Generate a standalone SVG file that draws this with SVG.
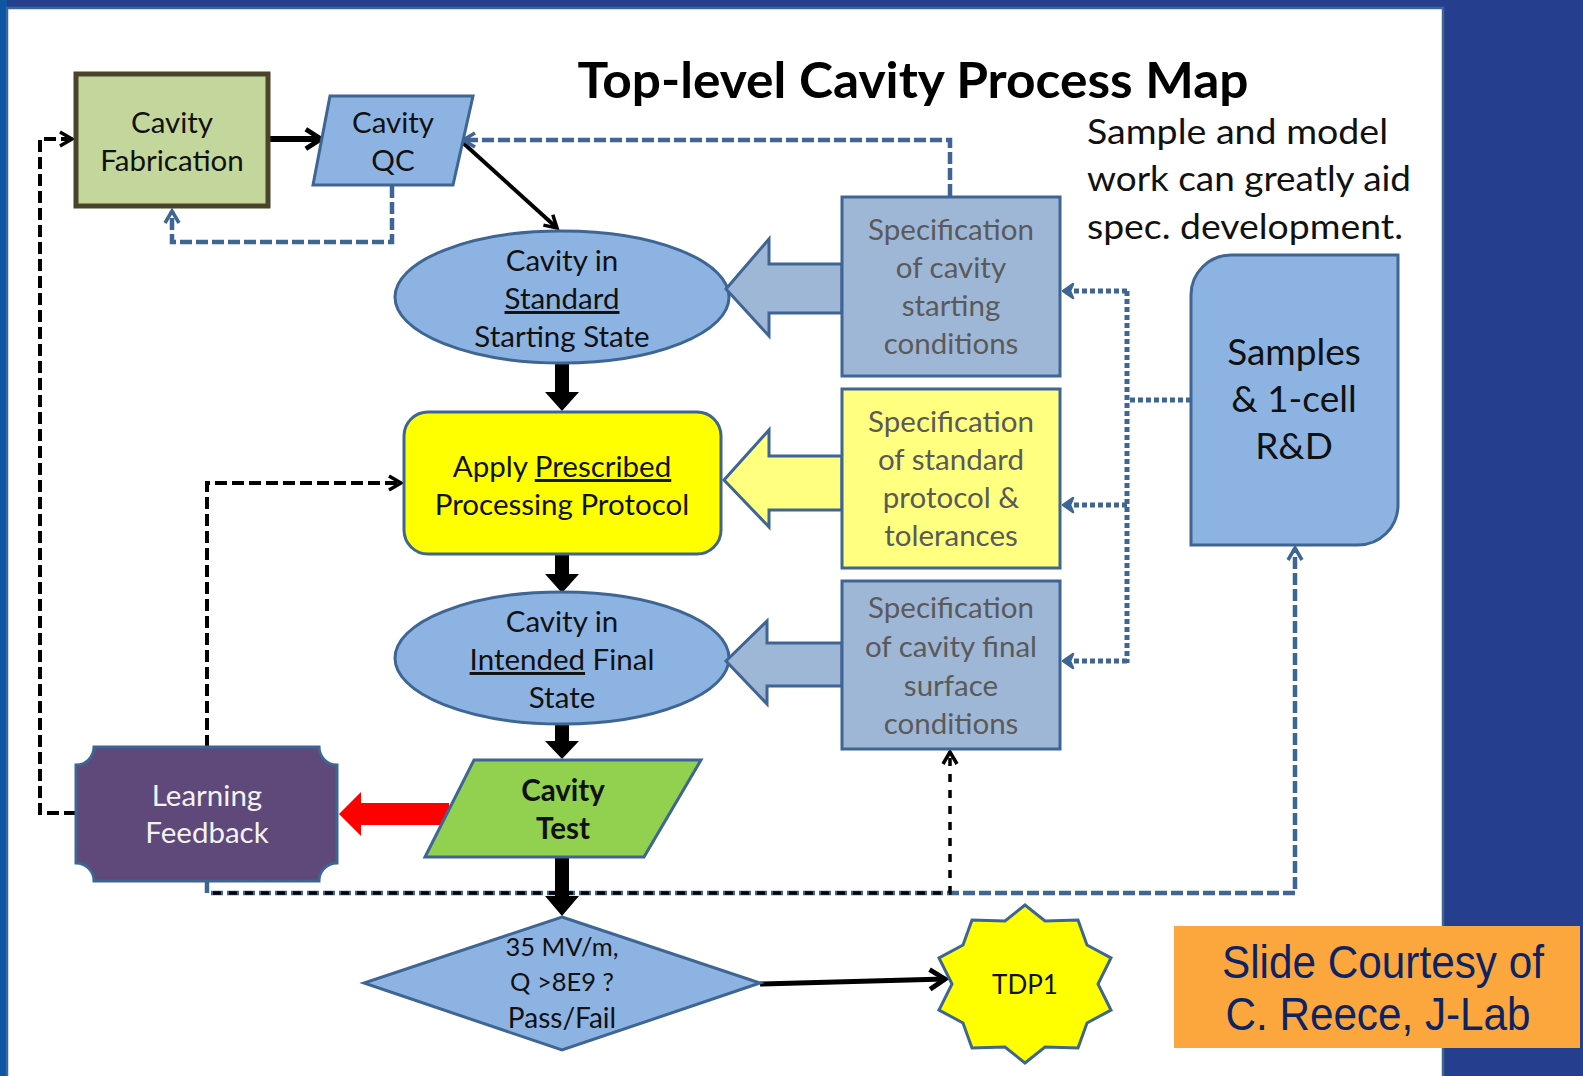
<svg xmlns="http://www.w3.org/2000/svg" width="1583" height="1076" viewBox="0 0 1583 1076">
  <style>
    .lbl { font-family: Lato, "Noto Sans", sans-serif; font-size: 29.5px; fill: #111; text-anchor: middle; }
    .spec { font-family: Lato, "Noto Sans", sans-serif; font-size: 29.5px; fill: #5a5a5a; text-anchor: middle; }
    .blue { fill: #8DB3E2; stroke: #3E6593; stroke-width: 3; }
    .edge { stroke: #3E6593; stroke-width: 3; }
    .dashB { fill: none; stroke: #3E6593; stroke-width: 4.5; stroke-dasharray: 12 4; }
    .dashK { fill: none; stroke: #000; stroke-width: 4; stroke-dasharray: 12 5; }
    .dot { fill: none; stroke: #3E6593; stroke-width: 5; stroke-dasharray: 5 3; }
    .solid { fill: none; stroke: #000; }
    .u { text-decoration: underline; }
  </style>
  <defs>
    <marker id="chevK" viewBox="0 0 20 20" refX="17" refY="10" markerWidth="20" markerHeight="20" markerUnits="userSpaceOnUse" orient="auto">
      <path d="M5,3 L17,10 L5,17" fill="none" stroke="#000" stroke-width="3.5"/>
    </marker>
    <marker id="chevKbig" viewBox="0 0 24 24" refX="20" refY="12" markerWidth="26" markerHeight="26" markerUnits="userSpaceOnUse" orient="auto">
      <path d="M6,3 L20,12 L6,21" fill="none" stroke="#000" stroke-width="4.5"/>
    </marker>
    <marker id="chevB" viewBox="0 0 20 20" refX="17" refY="10" markerWidth="20" markerHeight="20" markerUnits="userSpaceOnUse" orient="auto">
      <path d="M5,3 L17,10 L5,17" fill="none" stroke="#3E6593" stroke-width="3.5"/>
    </marker>
    <marker id="headB" viewBox="0 0 20 20" refX="17" refY="10" markerWidth="20" markerHeight="20" markerUnits="userSpaceOnUse" orient="auto">
      <path d="M7,3 L17,10 L7,17 L10,10 Z" fill="#3E6593" stroke="#3E6593" stroke-width="2.5" stroke-linejoin="round"/>
    </marker>
  </defs>

  <!-- slide background and white panel -->
  <rect x="0" y="0" width="1583" height="1076" fill="#253F8E"/>
  <rect x="0" y="0" width="7" height="1076" fill="#0E56A4"/>
  <rect x="7" y="8" width="1436" height="1070" fill="#ffffff" stroke="#3D6597" stroke-width="2.5"/>

  <!-- headings -->
  <text x="913" y="98" font-family="Lato, 'Noto Sans', sans-serif" font-weight="bold" font-size="49" text-anchor="middle" fill="#000" textLength="671" lengthAdjust="spacingAndGlyphs">Top-level Cavity Process Map</text>
  <g font-family="Lato, 'Noto Sans', sans-serif" font-size="35" fill="#111">
    <text x="1087" y="144" textLength="301" lengthAdjust="spacingAndGlyphs">Sample and model</text>
    <text x="1087" y="191" textLength="324" lengthAdjust="spacingAndGlyphs">work can greatly aid</text>
    <text x="1087" y="239" textLength="316" lengthAdjust="spacingAndGlyphs">spec. development.</text>
  </g>

  <!-- connectors -->
  <g id="connectors">
    <path class="solid" d="M269 139 H321" stroke-width="6" marker-end="url(#chevKbig)"/>
    <path class="solid" d="M461 141 L557 228" stroke-width="4" marker-end="url(#chevK)"/>
    <path class="dashB" d="M950 196 V140 H463" marker-end="url(#chevB)"/>
    <path class="dashB" d="M392 186 V242 H172 V211" marker-end="url(#chevB)"/>
    <path class="dashK" d="M76 813 H40 V139 H72" marker-end="url(#chevK)"/>
    <path class="dashK" d="M207 747 V483 H401" marker-end="url(#chevK)"/>
    <path class="dashB" d="M207 881 V893 H1295 V548" marker-end="url(#chevB)"/>
    <path d="M207 893 H950 V752" fill="none" stroke="#000" stroke-width="3.5" stroke-dasharray="8 8" stroke-dashoffset="10" marker-end="url(#chevK)"/>
    <path class="dot" d="M1191 400 H1127"/>
    <path class="dot" d="M1127 291 V663"/>
    <path class="dot" d="M1127 291 H1063" marker-end="url(#headB)"/>
    <path class="dot" d="M1127 505 H1063" marker-end="url(#headB)"/>
    <path class="dot" d="M1127 661 H1063" marker-end="url(#headB)"/>
    <!-- thick downward flow arrows -->
    <polygon points="555,363 569,363 569,392 579,392 562,411 545,392 555,392" fill="#000"/>
    <polygon points="555,553 569,553 569,574 579,574 562,593 545,574 555,574" fill="#000"/>
    <polygon points="555,723 569,723 569,741 579,741 562,759 545,741 555,741" fill="#000"/>
    <polygon points="555,856 569,856 569,896 579,896 562,916 545,896 555,896" fill="#000"/>
    <!-- diamond to TDP1 -->
    <path class="solid" d="M760 984 L945 979" stroke-width="5" marker-end="url(#chevKbig)"/>
    <!-- feedback arrow -->
    <polygon points="449,803 361,803 361,792 339,814 361,836 361,825 449,825" fill="#FF0000"/>
  </g>

  <g id="cavity-fabrication">
    <rect x="76" y="74" width="192" height="132" fill="#C3D69B" stroke="#4A452A" stroke-width="5"/>
    <text class="lbl" x="172" y="133">Cavity</text>
    <text class="lbl" x="172" y="171">Fabrication</text>
  </g>

  <g id="cavity-qc">
    <polygon class="blue" points="330,96 473,96 453,185 313,185"/>
    <text class="lbl" x="393" y="133">Cavity</text>
    <text class="lbl" x="393" y="171">QC</text>
  </g>

  <g id="standard-state">
    <ellipse class="blue" cx="562" cy="297" rx="167" ry="66"/>
    <text class="lbl" x="562" y="271">Cavity in</text>
    <text class="lbl" x="562" y="309"><tspan class="u">Standard</tspan></text>
    <text class="lbl" x="562" y="347">Starting State</text>
  </g>

  <g id="spec-starting">
    <polygon class="edge" fill="#9FB7D6" points="842,264 769,264 769,239 726,289 769,336 769,313 842,313"/>
    <rect class="edge" x="842" y="197" width="218" height="179" fill="#9FB7D6"/>
    <text class="spec" x="951" y="240">Specification</text>
    <text class="spec" x="951" y="278">of cavity</text>
    <text class="spec" x="951" y="316">starting</text>
    <text class="spec" x="951" y="354">conditions</text>
  </g>

  <g id="apply-protocol">
    <rect class="edge" x="404" y="412" width="317" height="142" rx="24" fill="#FFFF00"/>
    <text class="lbl" x="562" y="477">Apply <tspan class="u">Prescribed</tspan></text>
    <text class="lbl" x="562" y="515">Processing Protocol</text>
  </g>

  <g id="spec-protocol">
    <polygon class="edge" fill="#FFFF80" points="842,456 769,456 769,430 724,480 769,527 769,510 842,510"/>
    <rect class="edge" x="842" y="389" width="218" height="179" fill="#FFFF80"/>
    <text class="spec" x="951" y="432">Specification</text>
    <text class="spec" x="951" y="470">of standard</text>
    <text class="spec" x="951" y="508">protocol &amp;</text>
    <text class="spec" x="951" y="546">tolerances</text>
  </g>

  <g id="final-state">
    <ellipse class="blue" cx="562" cy="658" rx="167" ry="66"/>
    <text class="lbl" x="562" y="632">Cavity in</text>
    <text class="lbl" x="562" y="670"><tspan class="u">Intended</tspan> Final</text>
    <text class="lbl" x="562" y="708">State</text>
  </g>

  <g id="spec-final">
    <polygon class="edge" fill="#9FB7D6" points="842,643 767,643 767,621 726,661 767,704 767,686 842,686"/>
    <rect class="edge" x="842" y="581" width="218" height="168" fill="#9FB7D6"/>
    <text class="spec" x="951" y="618">Specification</text>
    <text class="spec" x="951" y="657">of cavity final</text>
    <text class="spec" x="951" y="696">surface</text>
    <text class="spec" x="951" y="734">conditions</text>
  </g>

  <g id="cavity-test">
    <polygon class="edge" fill="#92D050" points="474,760 701,760 644,857 425,857"/>
    <text class="lbl" x="563" y="801" font-weight="bold">Cavity</text>
    <text class="lbl" x="563" y="839" font-weight="bold">Test</text>
  </g>

  <g id="learning-feedback">
    <path class="edge" fill="#5F497A" d="M94 747 H319 A18 18 0 0 0 337 765 V863 A18 18 0 0 0 319 881 H94 A18 18 0 0 0 76 863 V765 A18 18 0 0 0 94 747 Z"/>
    <text class="lbl" x="207" y="806" style="fill:#F2F2F2">Learning</text>
    <text class="lbl" x="207" y="843" style="fill:#F2F2F2">Feedback</text>
  </g>

  <g id="pass-fail">
    <polygon class="blue" points="562,917 760,983 562,1050 364,983"/>
    <text class="lbl" x="562" y="956" style="font-size:25.5px">35 MV/m,</text>
    <text class="lbl" x="562" y="991" style="font-size:25.5px">Q &gt;8E9 ?</text>
    <text class="lbl" x="562" y="1028" style="font-size:28px">Pass/Fail</text>
  </g>

  <g id="tdp1">
    <polygon class="edge" fill="#FFFF00" points="1025,905 1045,921 1078,920 1087,945 1111,958 1098,984 1111,1010 1087,1023 1078,1048 1045,1047 1025,1063 1005,1047 972,1048 963,1023 939,1010 952,984 939,958 963,945 972,920 1005,921"/>
    <text class="lbl" x="1025" y="994" style="font-size:26px">TDP1</text>
  </g>

  <g id="samples-rd">
    <path class="blue" d="M1231 255 H1398 V505 A40 40 0 0 1 1358 545 H1191 V295 A40 40 0 0 1 1231 255 Z"/>
    <text class="lbl" x="1294" y="365" style="font-size:37px">Samples</text>
    <text class="lbl" x="1294" y="412" style="font-size:37px">&amp; 1-cell</text>
    <text class="lbl" x="1294" y="459" style="font-size:37px">R&amp;D</text>
  </g>

  <g id="courtesy">
    <rect x="1174" y="926" width="406" height="122" fill="#FBA73D"/>
    <text x="1383" y="978" font-family="'Liberation Sans', Arial, sans-serif" font-size="46" fill="#0C2365" text-anchor="middle" textLength="322" lengthAdjust="spacingAndGlyphs">Slide Courtesy of</text>
    <text x="1378" y="1030" font-family="'Liberation Sans', Arial, sans-serif" font-size="46" fill="#0C2365" text-anchor="middle" textLength="305" lengthAdjust="spacingAndGlyphs">C. Reece, J-Lab</text>
  </g>
</svg>
